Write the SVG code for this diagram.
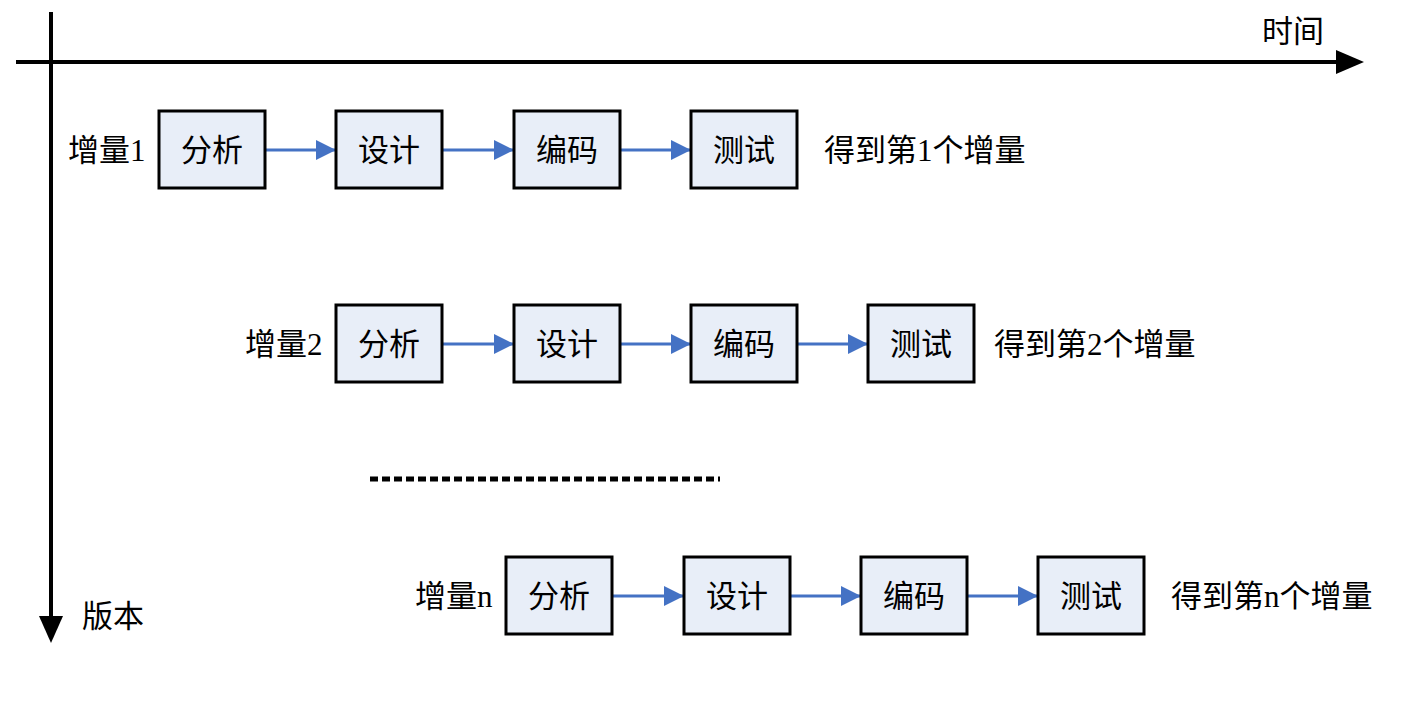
<svg xmlns="http://www.w3.org/2000/svg" width="1401" height="702" viewBox="0 0 1401 702">
<style>
.b{fill:#e8eef8;stroke:#000;stroke-width:3}
text{font-family:"Liberation Serif","Noto Sans CJK SC",serif;font-size:31px;fill:#000}
.c{text-anchor:middle}
.a{stroke:#4472c4;stroke-width:3;fill:none;marker-end:url(#m)}
</style>
<defs>
<marker id="m" markerWidth="20" markerHeight="20" refX="20" refY="10" orient="auto" markerUnits="userSpaceOnUse" viewBox="0 0 20 20"><path d="M0,0L20,10L0,20z" fill="#4472c4"/></marker>
</defs>
<g id="axes">
<line x1="16" y1="62" x2="1340" y2="62" stroke="#000" stroke-width="4"/>
<path d="M1336,50L1364,62L1336,74z"/>
<line x1="51" y1="12" x2="51" y2="620" stroke="#000" stroke-width="4"/>
<path d="M39,616L51,643L63,616z"/>
<text x="1262" y="42">时间</text>
<text x="82" y="627">版本</text>
</g>
<g id="connectors">
<line class="a" x1="265" y1="150" x2="336" y2="150"/><line class="a" x1="442" y1="150" x2="514" y2="150"/><line class="a" x1="620" y1="150" x2="691" y2="150"/>
<line class="a" x1="442" y1="344" x2="514" y2="344"/><line class="a" x1="620" y1="344" x2="691" y2="344"/><line class="a" x1="797" y1="344" x2="868" y2="344"/>
<line class="a" x1="612" y1="596" x2="684" y2="596"/><line class="a" x1="790" y1="596" x2="861" y2="596"/><line class="a" x1="967" y1="596" x2="1038" y2="596"/>
</g>
<line x1="370" y1="479" x2="720" y2="479" stroke="#000" stroke-width="5" stroke-dasharray="8,4"/>
<g id="row1">
<text x="68" y="161">增量1</text>
<g id="r1a"><rect class="b" x="159" y="111" width="106" height="77"/><text class="c" x="212" y="161">分析</text></g>
<g id="r1b"><rect class="b" x="336" y="111" width="106" height="77"/><text class="c" x="389" y="161">设计</text></g>
<g id="r1c"><rect class="b" x="514" y="111" width="106" height="77"/><text class="c" x="567" y="161">编码</text></g>
<g id="r1d"><rect class="b" x="691" y="111" width="106" height="77"/><text class="c" x="744" y="161">测试</text></g>
<text x="824" y="161">得到第1个增量</text>
</g>
<g id="row2">
<text x="245" y="355">增量2</text>
<g id="r2a"><rect class="b" x="336" y="305" width="106" height="77"/><text class="c" x="389" y="355">分析</text></g>
<g id="r2b"><rect class="b" x="514" y="305" width="106" height="77"/><text class="c" x="567" y="355">设计</text></g>
<g id="r2c"><rect class="b" x="691" y="305" width="106" height="77"/><text class="c" x="744" y="355">编码</text></g>
<g id="r2d"><rect class="b" x="868" y="305" width="106" height="77"/><text class="c" x="921" y="355">测试</text></g>
<text x="994" y="355">得到第2个增量</text>
</g>
<g id="rown">
<text x="415" y="607">增量n</text>
<g id="rna"><rect class="b" x="506" y="557" width="106" height="77"/><text class="c" x="559" y="607">分析</text></g>
<g id="rnb"><rect class="b" x="684" y="557" width="106" height="77"/><text class="c" x="737" y="607">设计</text></g>
<g id="rnc"><rect class="b" x="861" y="557" width="106" height="77"/><text class="c" x="914" y="607">编码</text></g>
<g id="rnd"><rect class="b" x="1038" y="557" width="106" height="77"/><text class="c" x="1091" y="607">测试</text></g>
<text x="1171" y="607">得到第n个增量</text>
</g>
</svg>
